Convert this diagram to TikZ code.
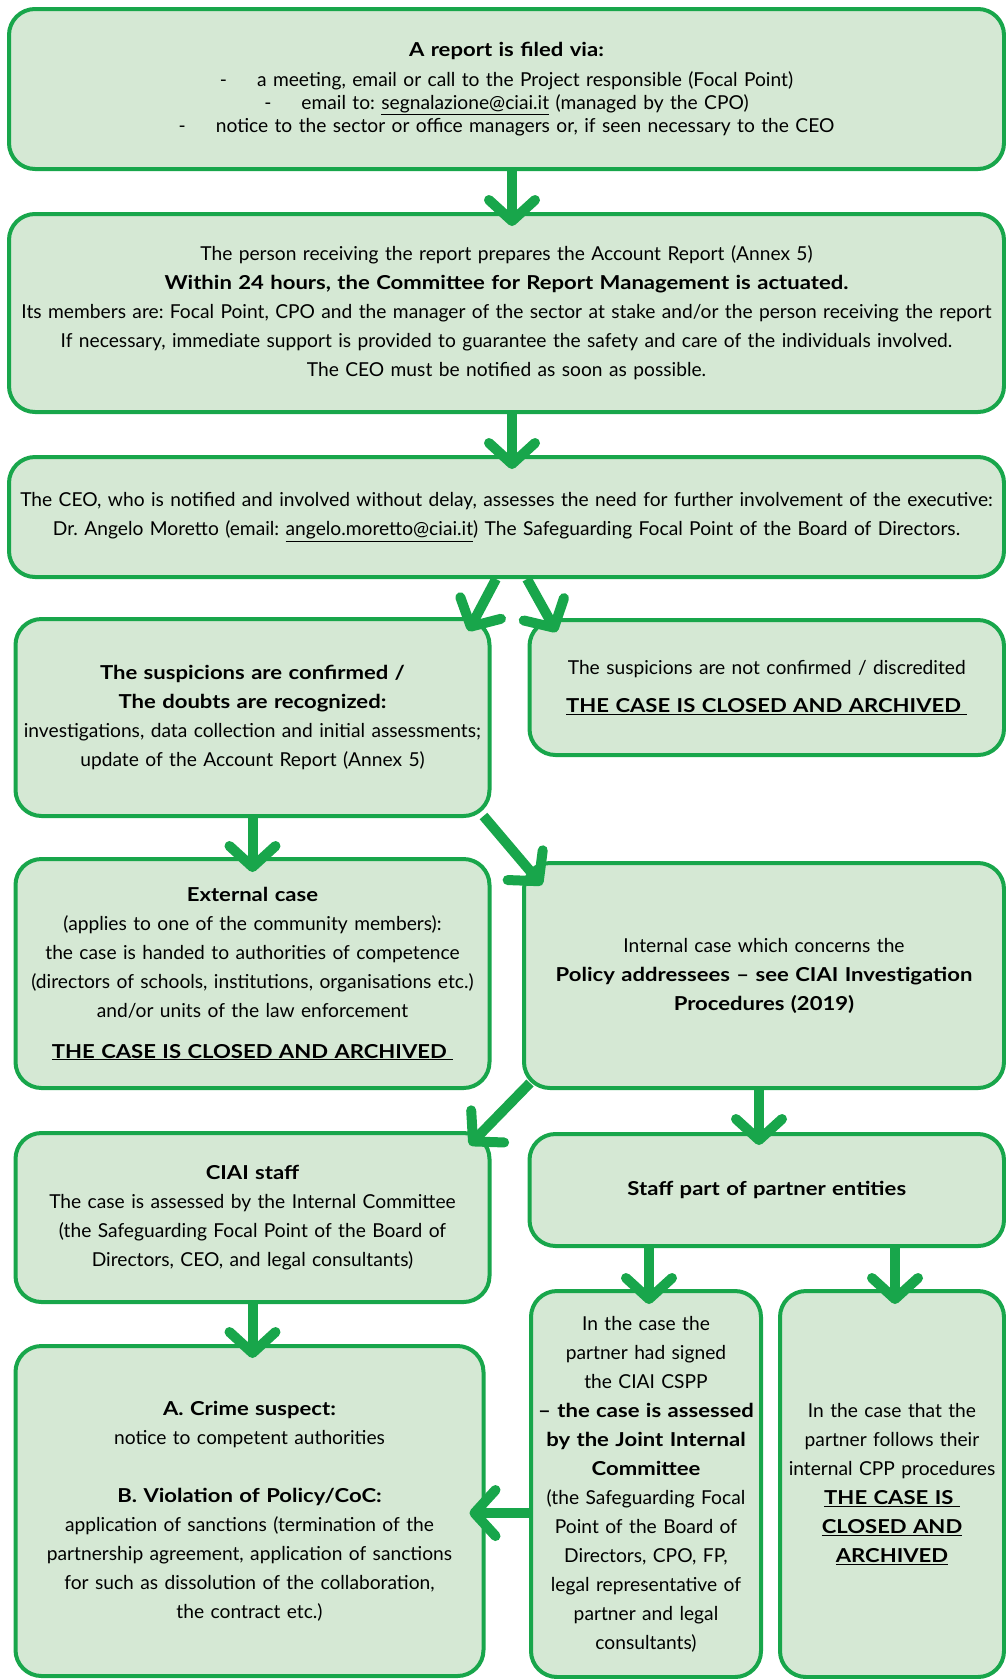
\documentclass[tikz,border=0pt]{standalone}
\usepackage{fontspec}
\setmainfont{Lato}[BoldFeatures={FakeStretch=1.15}]
\frenchspacing
\usetikzlibrary{arrows.meta}
\definecolor{boxgreen}{RGB}{24,166,75}
\definecolor{boxfill}{RGB}{213,232,212}

\begin{document}
\begin{tikzpicture}[x=1pt,y=-1pt,
  box/.style={draw=boxgreen, fill=boxfill, line width=4pt, rounded corners=26pt,
    inner sep=0pt, align=center, font=\fontsize{19.2}{29}\selectfont},
  arr/.style={draw=boxgreen, line width=10pt,
    -{Straight Barb[round,length=21pt,width=46pt]}}
]
\clip (0,0) rectangle (1006,1679);

% Report
\node[box, minimum width=995pt, minimum height=160pt, text width=990pt,
  font=\fontsize{19.2}{23}\selectfont] (report) at (506.5,89)
{\textbf{A report is filed via:}\\[7pt]
-\hspace{30pt}a meeting, email or call to the Project responsible (Focal Point)\\
-\hspace{30pt}email to: \underline{segnalazione@ciai.it} (managed by the CPO)\\
-\hspace{30pt}notice to the sector or office managers or, if seen necessary to the CEO};

% Account Report
\node[box, minimum width=995pt, minimum height=198pt, text width=995pt] (account) at (506.5,313)
{The person receiving the report prepares the Account Report (Annex 5)\\
\textbf{Within 24 hours, the Committee for Report Management is actuated.}\\
Its members are: Focal Point, CPO and the manager of the sector at stake and/or the person receiving the report\\
If necessary, immediate support is provided to guarantee the safety and care of the individuals involved.\\
The CEO must be notified as soon as possible.};

% CEO
\node[box, minimum width=995pt, minimum height=120pt, text width=995pt] (ceo) at (506.5,517)
{The CEO, who is notified and involved without delay, assesses the need for further involvement of the executive:\\
Dr. Angelo Moretto (email: \underline{angelo.moretto@ciai.it}) The Safeguarding Focal Point of the Board of Directors.};

% Confirmed / not confirmed
\node[box, minimum width=474pt, minimum height=197pt, text width=472pt] (confirmed) at (252.5,717.5)
{\textbf{The suspicions are confirmed /}\\
\textbf{The doubts are recognized:}\\
investigations, data collection and initial assessments;\\
update of the Account Report (Annex 5)};

\node[box, minimum width=474.5pt, minimum height=135pt, text width=472pt] (notconf) at (766.75,687.5)
{The suspicions are not confirmed / discredited\\[9pt]
\textbf{\underline{THE CASE IS CLOSED AND ARCHIVED\ }}};

% External / internal case
\node[box, minimum width=474pt, minimum height=229pt, text width=472pt] (external) at (252.5,973.5)
{\textbf{External case}\\
(applies to one of the community members):\\
the case is handed to authorities of competence\\
(directors of schools, institutions, organisations etc.)\\
and/or units of the law enforcement\\[12pt]
\textbf{\underline{THE CASE IS CLOSED AND ARCHIVED\ }}};

\node[box, minimum width=480pt, minimum height=225pt, text width=476pt] (internal) at (764,975.5)
{Internal case which concerns the\\
\textbf{Policy addressees -- see CIAI Investigation}\\
\textbf{Procedures (2019)}};

% CIAI staff / partner staff
\node[box, minimum width=474pt, minimum height=169pt, text width=472pt] (staff) at (252.5,1217.5)
{\textbf{CIAI staff}\\
The case is assessed by the Internal Committee\\
(the Safeguarding Focal Point of the Board of\\
Directors, CEO, and legal consultants)};

\node[box, minimum width=474.5pt, minimum height=112pt, text width=472pt] (partner) at (766.75,1190)
{\textbf{Staff part of partner entities}};

% Outcomes
\node[box, minimum width=468pt, minimum height=330pt, text width=466pt] (crime) at (249.5,1511)
{\textbf{A. Crime suspect:}\\
notice to competent authorities\\[29pt]
\textbf{B. Violation of Policy/CoC:}\\
application of sanctions (termination of the\\
partnership agreement, application of sanctions\\
for such as dissolution of the collaboration,\\
the contract etc.)};

\node[box, minimum width=230pt, minimum height=386pt, text width=229pt] (signed) at (646,1484)
{In the case the\\
partner had signed\\
the CIAI CSPP\\
\textbf{-- the case is assessed}\\
\textbf{by the Joint Internal}\\
\textbf{Committee}\\
(the Safeguarding Focal\\
Point of the Board of\\
Directors, CPO, FP,\\
legal representative of\\
partner and legal\\
consultants)};

\node[box, minimum width=224pt, minimum height=386pt, text width=223pt] (own) at (892,1484)
{In the case that the\\
partner follows their\\
internal CPP procedures\\
\textbf{\underline{THE CASE IS\ }}\\
\textbf{\underline{CLOSED AND}}\\
\textbf{\underline{ARCHIVED}}};

% Arrows
\draw[arr] ([xshift=5.5pt]report.south) -- ([xshift=5.5pt,yshift=-14pt]account.north);
\draw[arr] ([xshift=5.5pt]account.south) -- ([xshift=5.5pt,yshift=-14pt]ceo.north);
\draw[arr] ([xshift=-10.5pt]ceo.south) -- ([xshift=-23pt,yshift=-14pt]confirmed.north east);
\draw[arr] ([xshift=20.5pt]ceo.south) -- ([xshift=29pt,yshift=-14pt]notconf.north west);
\draw[arr] (confirmed.south) -- ([yshift=-15pt]external.north);
\draw[arr] ([xshift=-8pt,yshift=2pt]confirmed.south east) -- ([xshift=20pt,yshift=-24pt]internal.north west);
\draw[arr] ([xshift=8pt,yshift=7pt]internal.south west) -- ([xshift=-22pt,yshift=-14pt]staff.north east);
\draw[arr] ([xshift=-5pt]internal.south) -- ([xshift=-7.75pt,yshift=-13pt]partner.north);
\draw[arr] ([xshift=-117.75pt]partner.south) -- ([xshift=3pt,yshift=-15pt]signed.north);
\draw[arr] ([xshift=128.25pt]partner.south) -- ([xshift=3pt,yshift=-15pt]own.north);
\draw[arr] (staff.south) -- ([xshift=3pt,yshift=-14pt]crime.north);
\draw[arr] ([yshift=-29pt]signed.west) -- ([xshift=-16pt,yshift=-2pt]crime.east);

\end{tikzpicture}
\end{document}
